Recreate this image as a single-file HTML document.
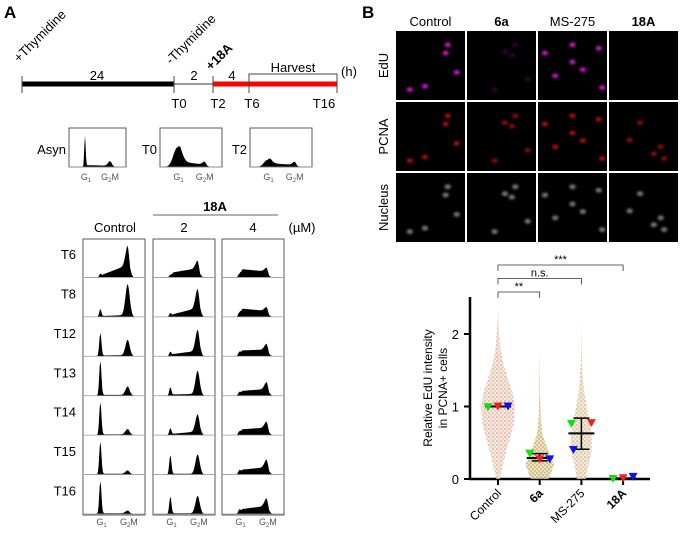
<!DOCTYPE html>
<html><head><meta charset="utf-8">
<style>
html,body{margin:0;padding:0;background:#fff;}
svg{display:block;font-family:"Liberation Sans",sans-serif;}
</style></head>
<body>
<svg id="fig" width="681" height="536" viewBox="0 0 681 536" xmlns="http://www.w3.org/2000/svg">
<defs>
<filter id="blur1" x="-50%" y="-50%" width="200%" height="200%"><feGaussianBlur stdDeviation="1.2"/></filter>
<pattern id="dotsC" width="4" height="4" patternUnits="userSpaceOnUse"><rect width="4" height="4" fill="#f6e2da"/><circle cx="1" cy="1" r="0.9" fill="#e08a80"/><circle cx="3" cy="3" r="0.9" fill="#b8c890"/></pattern>
<pattern id="dots6" width="4" height="4" patternUnits="userSpaceOnUse"><rect width="4" height="4" fill="#e4dcb0"/><circle cx="1" cy="1" r="0.9" fill="#a8a040"/><circle cx="3" cy="3" r="0.9" fill="#d08060"/></pattern>
<pattern id="dotsM" width="4" height="4" patternUnits="userSpaceOnUse"><rect width="4" height="4" fill="#f0e6d0"/><circle cx="1" cy="1" r="0.9" fill="#e09080"/><circle cx="3" cy="3" r="0.9" fill="#b8c880"/></pattern>
</defs>
<g>
<text x="4" y="18" font-size="17" font-weight="bold">A</text>
<line x1="22" y1="84" x2="174" y2="84" stroke="#000" stroke-width="5"/>
<line x1="174" y1="84" x2="213" y2="84" stroke="#999" stroke-width="2"/>
<line x1="213" y1="84" x2="337" y2="84" stroke="#f00" stroke-width="5"/>
<g stroke="#444" stroke-width="1">
<line x1="22" y1="76" x2="22" y2="93"/><line x1="174" y1="76" x2="174" y2="93"/><line x1="213" y1="76" x2="213" y2="93"/><line x1="249" y1="76" x2="249" y2="93"/><line x1="337" y1="76" x2="337" y2="93"/>
<polyline points="249,80 249,74 337,74 337,80" fill="none"/>
</g>
<g font-size="13" text-anchor="middle">
<text x="97" y="80">24</text><text x="194" y="80">2</text><text x="232" y="80">4</text>
<text x="293" y="72">Harvest</text>
<text x="179" y="108">T0</text><text x="218" y="108">T2</text><text x="252" y="108">T6</text><text x="324" y="108">T16</text>
<text x="349" y="76">(h)</text>
</g>
<text transform="translate(19,63) rotate(-45)" font-size="13">+Thymidine</text>
<text transform="translate(171,65) rotate(-45)" font-size="13">-Thymidine</text>
<text transform="translate(211,71) rotate(-45)" font-size="13" font-weight="bold">+18A</text>
</g>
<g id="histA"></g>
<g id="imgs"></g>
<g id="chart"></g>
</svg>
<script>
const NS="http://www.w3.org/2000/svg";
function mk(tag,attrs,parent){const e=document.createElementNS(NS,tag);for(const k in attrs)e.setAttribute(k,attrs[k]);parent.appendChild(e);return e;}
function txt(parent,x,y,s,size,extra){const t=mk('text',Object.assign({x:x,y:y,'font-size':size},extra||{}),parent);t.textContent=s;return t;}

const rowLabels=["T6","T8","T12","T13","T14","T15","T16"];
const ctrlG1=[0.10,0.20,0.60,0.90,0.85,0.85,0.85];
const ctrlS0=[0.05,0.02,0.02,0.02,0.02,0.02,0.02];
const ctrlS1=[0.35,0.05,0.03,0.02,0.02,0.02,0.02];
const ctrlG2=[0.50,0.80,0.40,0.22,0.14,0.09,0.07];
const d2G1=[0.07,0.10,0.12,0.22,0.18,0.50,0.45];
const d2S0=[0.12,0.05,0.05,0.03,0.03,0.02,0.02];
const d2S1=[0.25,0.25,0.15,0.05,0.10,0.02,0.02];
const d2G2=[0.20,0.50,0.55,0.60,0.45,0.50,0.45];
const d4G1=[0.10,0.12,0.12,0.10,0.10,0.12,0.12];
const d4S0=[0.22,0.22,0.15,0.12,0.15,0.12,0.12];
const d4S1=[0.15,0.15,0.18,0.18,0.20,0.20,0.22];
const d4G2=[0.10,0.10,0.15,0.18,0.16,0.20,0.20];
const topLabels=["Asyn","T0","T2"];
const topG1=[0.80,0.50,0.18];
const topG1w=[0.018,0.09,0.08];
const topS0=[0.05,0.15,0.10];
const topS1=[0.03,0.05,0.05];
const topG2=[0.12,0.08,0.08];

const H=document.getElementById('histA');
function hist(parent,x0,y0,w,h,g1,g1w,s0,s1,g2){
  const base=y0+h;let d=`M${x0},${base}`;
  const N=100;
  for(let i=0;i<=N;i++){const t=i/N;
    let v=g1*Math.exp(-Math.pow((t-0.28)/g1w,2))+g2*Math.exp(-Math.pow((t-0.72)/0.05,2));
    if(t>0.28&&t<0.76){const u=(t-0.28)/0.48;v+= (s0+(s1-s0)*u)*Math.min(1,(t-0.28)/0.05)*Math.min(1,(0.76-t)/0.04);}
    v=Math.min(v,0.95);
    d+=` L${(x0+t*w).toFixed(1)},${(base-v*h).toFixed(1)}`;}
  d+=` L${x0+w},${base} Z`;
  const p=mk('path',{d:d,fill:'#000'},parent);
  
  
  mk('line',{x1:x0,y1:base,x2:x0+w,y2:base,stroke:'#999','stroke-width':0.8},parent);
}
function g1g2(parent,cx1,cx2,y){
  const a=txt(parent,cx1,y,'G',9,{'text-anchor':'middle',fill:'#555'});const s=mk('tspan',{'font-size':6,dy:2},a);s.textContent='1';
  const b=txt(parent,cx2,y,'G',9,{'text-anchor':'middle',fill:'#555'});const s2=mk('tspan',{'font-size':6,dy:2},b);s2.textContent='2';const s3=mk('tspan',{dy:-2},b);s3.textContent='M';
}
const topX=[69,160,250];
for(let i=0;i<3;i++){
  const x=topX[i],w=(i==0?57:62),y=128,h=39;
  mk('rect',{x:x,y:y,width:w,height:h,fill:'none',stroke:'#333','stroke-width':0.8},H);
  hist(H,x,y,w,h,topG1[i],topG1w[i],topS0[i],topS1[i],topG2[i]);
  txt(H,x-3,154,topLabels[i],13,{'text-anchor':'end'});
  g1g2(H,x+w*0.3,x+w*0.72,180);
}
const colX=[83,153,222],colW=62,gy0=239,rowH=276/7;
const cols=[[ctrlG1,ctrlS0,ctrlS1,ctrlG2],[d2G1,d2S0,d2S1,d2G2],[d4G1,d4S0,d4S1,d4G2]];
txt(H,115,232,'Control',13,{'text-anchor':'middle'});
txt(H,184,232,'2',13,{'text-anchor':'middle'});
txt(H,253,232,'4',13,{'text-anchor':'middle'});
txt(H,302,232,'(µM)',13,{'text-anchor':'middle'});
txt(H,215,211,'18A',13,{'text-anchor':'middle','font-weight':'bold'});
mk('line',{x1:153,y1:215,x2:278,y2:215,stroke:'#333','stroke-width':0.8},H);
for(let c=0;c<3;c++){
  mk('rect',{x:colX[c],y:gy0,width:colW,height:276,fill:'none',stroke:'#333','stroke-width':0.8},H);
  for(let r=0;r<7;r++){
    const a=cols[c];
    hist(H,colX[c],gy0+r*rowH,colW,rowH-1,a[0][r],0.025,a[1][r],a[2][r],a[3][r]);
  }
  g1g2(H,colX[c]+colW*0.3,colX[c]+colW*0.74,525);
}
for(let r=0;r<7;r++) txt(H,76,gy0+r*rowH+20,rowLabels[r],13,{'text-anchor':'end'});

const I=document.getElementById('imgs');
txt(I,362,18,'B',17,{'font-weight':'bold'});
const imCols=["Control","6a","MS-275","18A"];
const imBold=[false,true,false,true];
const imX=[396,467,538,609],imY=[31,102,173],imS=69;
const rowNames=["EdU","PCNA","Nucleus"];
const rowColor=["#e020e0","#e01818","#c8c8c8"];
const cells=[
 [[.2,.85],[.42,.8],[.75,.2],[.72,.32],[.88,.6]],
 [[.7,.2],[.65,.35],[.88,.7],[.4,.85],[.55,.3]],
 [[.1,.32],[.5,.2],[.5,.45],[.25,.65],[.65,.56],[.93,.82],[.88,.25]],
 [[.45,.3],[.3,.55],[.75,.65],[.8,.82],[.65,.75]]];
const edAlpha=[0.85,0.2,0.85,0];
const pcAlpha=[0.75,0.6,0.75,0.6];
imCols.forEach((n,i)=>txt(I,imX[i]+imS/2,26,n,13,{'text-anchor':'middle','font-weight':imBold[i]?'bold':'normal'}));
rowNames.forEach((n,j)=>txt(I,0,0,n,13,{'text-anchor':'middle',transform:`translate(${388},${imY[j]+imS/2}) rotate(-90)`}));
for(let i=0;i<4;i++)for(let j=0;j<3;j++){
  const r=mk('rect',{x:imX[i],y:imY[j],width:imS,height:imS,fill:'#000'},I);
  
  
  const al=j==0?edAlpha[i]:(j==1?pcAlpha[i]:0.6);
  if(al>0) cells[i].forEach(p=>mk('ellipse',{cx:imX[i]+p[0]*imS,cy:imY[j]+p[1]*imS,rx:3.2,ry:2.4,fill:rowColor[j],opacity:al,filter:'url(#blur1)'},I));
}

const C=document.getElementById('chart');
const cats=["Control","6a","MS-275","18A"];
const catBold=[false,true,false,true];
const yTicks=[0,1,2];
const densLevels=[0,0.2,0.4,0.6,0.8,1.0,1.2,1.4,1.6,1.8,2.0,2.2,2.4];
const densCtrl=[0.1,0.3,0.5,0.75,0.95,1.0,0.85,0.55,0.3,0.15,0.07,0.03,0];
const dens6a=[0.6,0.95,0.55,0.2,0.08,0.05,0.03,0.02,0.01,0,0,0,0];
const densMS=[0.35,0.55,0.8,0.8,0.6,0.4,0.22,0.1,0.05,0.02,0.01,0,0];
const dens18A=[0,0,0,0,0,0,0,0,0,0,0,0,0];
const densAll=[densCtrl,dens6a,densMS,dens18A];
const rep1=[0.99,0.35,0.76,0.00];
const rep2=[1.00,0.27,0.77,0.01];
const rep3=[1.00,0.27,0.40,0.03];
const means=[1.00,0.29,0.63,0.01];
const errLo=[1.00,0.25,0.41,0.01];
const errHi=[1.00,0.35,0.84,0.01];
const sig=["***","n.s.","**"];
const sigTo=[3,2,1];
const yS=v=>479-v*72.5;
const xS=i=>498+i*41.7;
mk('line',{x1:470,y1:297,x2:470,y2:480,stroke:'#000','stroke-width':2.5,},C);
mk('line',{x1:469,y1:479,x2:650,y2:479,stroke:'#000','stroke-width':2.5,},C);
yTicks.forEach(v=>{mk('line',{x1:464,y1:yS(v),x2:470,y2:yS(v),stroke:'#000','stroke-width':2},C);txt(C,459,yS(v)+5,String(v),13,{'text-anchor':'end'});});
const yl=txt(C,0,0,'',12,{'text-anchor':'middle',transform:'translate(432,388) rotate(-90)',});
const t1=mk('tspan',{x:0,dy:0},yl);t1.textContent='Relative EdU intensity';
const t2=mk('tspan',{x:0,dy:15},yl);t2.textContent='in PCNA+ cells';
cats.forEach((c,i)=>{
  mk('line',{x1:xS(i),y1:479,x2:xS(i),y2:485,stroke:'#000','stroke-width':2},C);
  const t=txt(C,0,0,c,12,{'text-anchor':'end',transform:`translate(${xS(i)+4},${494}) rotate(-45)`,'font-weight':catBold[i]?'bold':'normal'});
  
  
});
const fills=['url(#dotsC)','url(#dots6)','url(#dotsM)','#fff'];
densAll.forEach((d,i)=>{
  if(Math.max(...d)==0)return;
  const maxW=i==0?17:(i==1?15:13);
  let ptsR=[],ptsL=[];
  d.forEach((v,k)=>{const y=yS(densLevels[k]);ptsR.push(`${(xS(i)+v*maxW).toFixed(1)},${y.toFixed(1)}`);ptsL.unshift(`${(xS(i)-v*maxW).toFixed(1)},${y.toFixed(1)}`);});
  const p=mk('polygon',{points:ptsR.concat(ptsL).join(' '),fill:fills[i],opacity:0.8},C);
  
  
});
means.forEach((m,i)=>{
  mk('line',{x1:xS(i),y1:yS(errLo[i]),x2:xS(i),y2:yS(errHi[i]),stroke:'#000','stroke-width':1.5},C);
  [errLo[i],errHi[i]].forEach(v=>mk('line',{x1:xS(i)-8,y1:yS(v),x2:xS(i)+8,y2:yS(v),stroke:'#000','stroke-width':1.5},C));
  const l=mk('line',{x1:xS(i)-13,y1:yS(m),x2:xS(i)+13,y2:yS(m),stroke:'#000','stroke-width':2},C);
  
  
});
function tri(x,y,col){const p=mk('polygon',{points:`${x-4.5},${y-4} ${x+4.5},${y-4} ${x},${y+4}`,fill:col},C);
  
  }
cats.forEach((c,i)=>{
  tri(xS(i)-10,yS(rep1[i]),'#10e010');
  tri(xS(i)+(i==2?10:0),yS(rep2[i]),'#f02020');
  tri(xS(i)+(i==2?-8:10),yS(rep3[i]),'#1010f0');
});
sig.forEach((s,k)=>{
  const y=265+k*13.5,x2=xS(sigTo[k]);
  mk('polyline',{points:`${xS(0)},${y+6} ${xS(0)},${y} ${x2},${y} ${x2},${y+6}`,fill:'none',stroke:'#333','stroke-width':0.8},C);
  txt(C,(xS(0)+x2)/2,y-2,s,11,{'text-anchor':'middle'});
});
</script>
</body></html>
